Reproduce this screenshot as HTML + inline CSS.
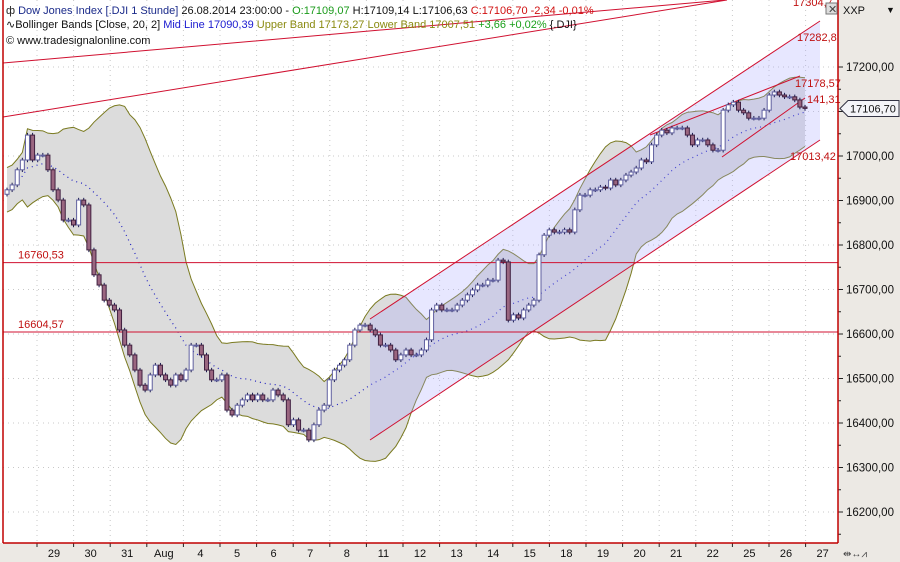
<!DOCTYPE html>
<html><head><meta charset="utf-8"><style>
body{margin:0;background:#fff;}
svg{display:block;font-family:"Liberation Sans",sans-serif;}
</style></head><body>
<svg id="c" width="900" height="562">
<rect x="0" y="0" width="900" height="562" fill="#fff"/>
<rect x="838" y="0" width="62" height="562" fill="#ece9e4"/>
<rect x="0" y="543" width="900" height="19" fill="#ece9e4"/>
<g id="grid"></g>
<g id="bands"></g>
<g id="lines"></g>
<g id="candles"></g>
<g id="axes"></g>
<line x1="3" y1="0" x2="3" y2="543" stroke="#c00000" stroke-width="1.5"/>
<line x1="838" y1="0" x2="838" y2="543" stroke="#c00000" stroke-width="1.5"/>
<line x1="3" y1="543" x2="838" y2="543" stroke="#c00000" stroke-width="1.5"/>
<g font-size="11">
<text x="6" y="14"><tspan fill="#222">ф </tspan><tspan fill="#1a2a8a">Dow Jones Index [.DJI  1 Stunde]</tspan><tspan fill="#111"> 26.08.2014 23:00:00 - </tspan><tspan fill="#1a9a1a">O:17109,07</tspan><tspan fill="#111"> H:17109,14 L:17106,63 </tspan><tspan fill="#d01010">C:17106,70 -2,34 -0,01%</tspan></text>
<text x="6" y="28"><tspan fill="#111">∿Bollinger Bands [Close, 20, 2] </tspan><tspan fill="#1a1ad0">Mid Line 17090,39 </tspan><tspan fill="#8a8a10">Upper Band 17173,27 Lower Band 17007,51 </tspan><tspan fill="#1aa01a">+3,66 +0,02% </tspan><tspan fill="#111">{.DJI}</tspan></text>
<text x="6" y="44" fill="#111">© www.tradesignalonline.com</text>
</g>
<rect x="826" y="3" width="11" height="11" fill="#ddd" stroke="#777"/>
<text x="828" y="13" font-size="11" fill="#444">✕</text>
<text x="843" y="14" font-size="11" fill="#111">XXP</text>
<text x="886" y="13" font-size="9" fill="#111">▼</text>
<text x="843" y="557" font-size="10" fill="#444">⇹↔⩘</text>
</svg>
<script>
const closes=[16924,16935,16969,16991,17047,16991,17002,17002,16969,16924,16901,16856,16856,16845,16901,16890,16789,16733,16710,16676,16665,16654,16609,16575,16553,16519,16485,16474,16508,16530,16508,16497,16485,16508,16497,16519,16575,16575,16553,16519,16497,16497,16508,16429,16418,16440,16452,16463,16452,16463,16452,16452,16474,16463,16452,16396,16407,16384,16384,16362,16396,16429,16440,16497,16519,16530,16542,16575,16609,16620,16620,16609,16598,16575,16575,16564,16542,16553,16564,16553,16553,16564,16587,16654,16665,16654,16654,16654,16665,16676,16688,16699,16710,16710,16721,16721,16766,16762,16631,16643,16636,16654,16665,16676,16778,16822,16834,16829,16829,16834,16829,16879,16912,16912,16924,16924,16930,16928,16946,16935,16946,16957,16964,16973,16991,16987,17025,17047,17058,17052,17063,17063,17063,17047,17025,17036,17036,17025,17013,17013,17103,17115,17121,17103,17097,17085,17085,17085,17103,17137,17144,17137,17133,17133,17126,17110,17107];
const priceTicks=[17200,17100,17000,16900,16800,16700,16600,16500,16400,16300,16200];
const priceTickLabels=["17200,00","","17000,00","16900,00","16800,00","16700,00","16600,00","16500,00","16400,00","16300,00","16200,00"];
const dayLabels=["29","30","31","Aug","4","5","6","7","8","11","12","13","14","15","18","19","20","21","22","25","26","27"];
const levelValues=[16760.53,16604.57];
const levelLabels=["16760,53","16604,57"];
const lastPrice=17106.70;
const lastPriceLabel="17106,70";

const NS="http://www.w3.org/2000/svg";
const y=v=>156+(17000-v)*0.445;
const x=i=>7+i*(798/(closes.length-1));
const dayX=k=>37+k*36.6;
function mk(tag,attrs,parent,text){const e=document.createElementNS(NS,tag);for(const k in attrs)e.setAttribute(k,attrs[k]);if(text!==undefined)e.textContent=text;document.getElementById(parent).appendChild(e);return e;}

priceTicks.forEach((v,i)=>{
  const g=mk('line',{x1:3,x2:838,y1:y(v),y2:y(v),stroke:'#c8c8c8','stroke-dasharray':'1,4'},'grid');
  
  
});
dayLabels.forEach((d,k)=>{
  const g=mk('line',{x1:dayX(k),x2:dayX(k),y1:0,y2:543,stroke:'#c8c8c8','stroke-dasharray':'1,4'},'grid');
  
  
});

const mid=[],up=[],lo=[];
closes.forEach((c,i)=>{const s=closes.slice(Math.max(0,i-19),i+1);const m=s.reduce((a,b)=>a+b,0)/s.length;const sd=Math.sqrt(s.reduce((a,b)=>a+(b-m)*(b-m),0)/s.length);mid.push(m);up.push(m+2*Math.max(sd,25));lo.push(m-2*Math.max(sd,25));});
let d='M'+closes.map((c,i)=>x(i)+','+y(up[i])).join('L');
d+='L'+closes.map((c,i)=>x(i)+','+y(lo[i])).reverse().join('L')+'Z';
let e=mk('path',{d:d,fill:'#dcdcdc',stroke:'none'},'bands');


e=mk('path',{d:'M'+closes.map((c,i)=>x(i)+','+y(up[i])).join('L'),fill:'none',stroke:'#7a7a20','stroke-width':1},'bands');


e=mk('path',{d:'M'+closes.map((c,i)=>x(i)+','+y(lo[i])).join('L'),fill:'none',stroke:'#7a7a20','stroke-width':1},'bands');


e=mk('path',{d:'M'+closes.map((c,i)=>x(i)+','+y(mid[i])).join('L'),fill:'none',stroke:'#2020c0','stroke-width':1.2,'stroke-dasharray':'1,4'},'bands');



e=mk('polygon',{points:'370,319 820,21 820,140 370,440',fill:'rgba(170,170,255,0.28)'},'lines');


[[370,319,820,21],[370,440,820,140],[3,63,725,0],[3,117,727,0],[722,157,805,98],[650,135,800,76]].forEach(p=>{
  const l=mk('line',{x1:p[0],y1:p[1],x2:p[2],y2:p[3],stroke:'#d01030','stroke-width':1},'lines');
  
  
});
levelValues.forEach((v,i)=>{
  const l=mk('line',{x1:3,x2:838,y1:y(v),y2:y(v),stroke:'#d01030','stroke-width':1},'lines');
  
  
  const t=mk('text',{x:18,y:y(v)-4,'font-size':11,fill:'#c01010'},'lines',levelLabels[i]);
  
  
});
[["17304,7",793,6],["17282,8",797,41],["17178,57",795,87],["141,31",807,103],["17013,42",790,160]].forEach(a=>{
  const t=mk('text',{x:a[1],y:a[2],'font-size':11,fill:'#c01010'},'lines',a[0]);
  
  
});

closes.forEach((c,i)=>{
  const o=i>0?closes[i-1]:c-10;
  const hi=Math.max(o,c)+5,lw=Math.min(o,c)-5;
  const xx=x(i);
  const w=mk('line',{x1:xx,x2:xx,y1:y(hi),y2:y(lw),stroke:'#1a1a50','stroke-width':1},'candles');
  
  
  const upc=c>=o;
  const r=mk('rect',{x:xx-2,width:4,y:y(Math.max(o,c)),height:Math.max(1,Math.abs(y(o)-y(c))),fill:upc?'#fff':'#9a6680',stroke:upc?'#6060a0':'#402040','stroke-width':1},'candles');
  
  
});

priceTicks.forEach((v,i)=>{
  let t=mk('line',{x1:838,x2:843,y1:y(v),y2:y(v),stroke:'#222'},'axes');
  
  
  t=mk('line',{x1:838,x2:841,y1:y(v-50),y2:y(v-50),stroke:'#222'},'axes');
  
  
  if(priceTickLabels[i]){t=mk('text',{x:846,y:y(v)+4,'font-size':11.5,fill:'#111'},'axes',priceTickLabels[i]);
  
  }
});
dayLabels.forEach((dl,k)=>{
  let t=mk('line',{x1:dayX(k),x2:dayX(k),y1:543,y2:547,stroke:'#222'},'axes');
  
  
  t=mk('text',{x:dayX(k)+17,y:557,'font-size':11,fill:'#111','text-anchor':'middle'},'axes',dl);
  
  
});
const py=y(lastPrice);
e=mk('path',{d:`M840,${py} L848,${py-8} L899,${py-8} L899,${py+8} L848,${py+8} Z`,fill:'#f4f4f8',stroke:'#334'},'axes');


e=mk('text',{x:850,y:py+4,'font-size':11,fill:'#111'},'axes',lastPriceLabel);


</script>
</body></html>
